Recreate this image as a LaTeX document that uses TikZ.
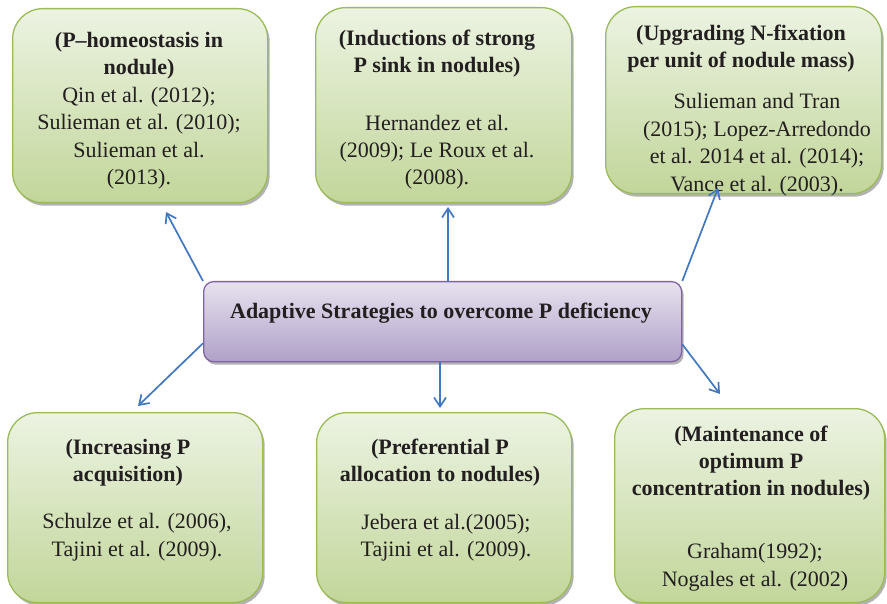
\documentclass[tikz,border=0pt]{standalone}
\usepackage{fontspec}
\setmainfont{Liberation Serif}
\usetikzlibrary{shadows,arrows.meta}
\definecolor{gtop}{RGB}{236,243,226}
\definecolor{gbot}{RGB}{194,214,154}
\definecolor{gline}{RGB}{155,187,89}
\definecolor{ptop}{RGB}{231,226,239}
\definecolor{pbot}{RGB}{176,161,200}
\definecolor{pline}{RGB}{128,100,162}
\definecolor{arr}{RGB}{66,120,192}
\definecolor{txtc}{RGB}{35,31,32}
\begin{document}
\begin{tikzpicture}[x=1pt,y=-1pt,
  shad/.style={drop shadow={shadow xshift=2pt,shadow yshift=-3pt,fill=black,opacity=.3}},
  gbox/.style={draw=gline,line width=1.3pt,rounded corners=30pt,top color=gtop,bottom color=gbot,shad,anchor=north west,inner sep=0pt},
  pbox/.style={draw=pline,line width=1.3pt,rounded corners=10pt,top color=ptop,bottom color=pbot,shad,anchor=north west,inner sep=0pt},
  txt/.style={align=center,inner sep=0pt,text=txtc,font=\fontsize{22}{27.4}\selectfont},
  hd/.style={txt,font=\fontsize{22}{27.4}\selectfont\bfseries},
  link/.style={draw=arr,line width=1.7pt,-{Straight Barb[length=9pt,width=12pt,line width=1.7pt]}}]
\useasboundingbox (0,0) rectangle (887,604);
\fill[white] (0,0) rectangle (887,604);
% boxes
\node[gbox,minimum width=255pt,minimum height=194pt] (b1) at (12,8) {};
\node[gbox,minimum width=256pt,minimum height=195pt] (b2) at (315,7) {};
\node[gbox,minimum width=276pt,minimum height=187pt] (b3) at (605,6) {};
\node[gbox,minimum width=255pt,minimum height=190pt] (b4) at (7,412) {};
\node[gbox,minimum width=255pt,minimum height=190pt] (b5) at (316,412) {};
\node[gbox,minimum width=270pt,minimum height=194pt] (b6) at (614,408) {};
\node[pbox,minimum width=478pt,minimum height=80pt] (c) at (203,281) {};
% texts
\node[txt] (t1) at (139,110.5) {\textbf{(P--homeostasis in}\strut\\\textbf{nodule)}\strut\\Qin et al. (2012);\strut\\Sulieman et al. (2010);\strut\\Sulieman et al.\strut\\(2013).\strut};
\node[hd] (h2) at (437,53.5) {(Inductions of strong\strut\\P sink in nodules)\strut};
\node[txt] (r2) at (437,152) {Hernandez et al.\strut\\(2009); Le Roux et al.\strut\\(2008).\strut};
\node[hd] (h3) at (741,48.5) {(Upgrading N-fixation\strut\\per unit of nodule mass)\strut};
\node[txt] (r3) at (757,144.5) {Sulieman and Tran\strut\\(2015); Lopez-Arredondo\strut\\et al. 2014 et al. (2014);\strut\\Vance et al. (2003).\strut};
\node[hd] (h4) at (128,462.5) {(Increasing P\strut\\acquisition)\strut};
\node[txt] (r4) at (137,537) {Schulze et al. (2006),\strut\\Tajini et al. (2009).\strut};
\node[hd] (h5) at (440,462.5) {(Preferential P\strut\\allocation to nodules)\strut};
\node[txt] (r5) at (446,537.5) {Jebera et al.(2005);\strut\\Tajini et al. (2009).\strut};
\node[hd] (h6) at (751,463) {(Maintenance of\strut\\optimum P\strut\\concentration in nodules)\strut};
\node[txt] (r6) at (755,567) {Graham(1992);\strut\\Nogales et al. (2002)\strut};
\node[hd] (ct) at (441,313) {Adaptive Strategies to overcome P deficiency\strut};
% arrow ends
\coordinate (e1) at (166,212);
\coordinate (e2) at (448,207);
\coordinate (e3) at (718,188);
\coordinate (e4) at (138,406);
\coordinate (e5) at (440,408);
\coordinate (e6) at (720,394);
\draw[link] (c.north west) -- (e1);
\draw[link] ([xshift=245pt]c.north west) -- (e2);
\draw[link] (c.north east) -- (e3);
\draw[link] ([yshift=19pt]c.south west) -- (e4);
\draw[link] ([xshift=237pt]c.south west) -- (e5);
\draw[link] ([yshift=18pt]c.south east) -- (e6);
\end{tikzpicture}
\end{document}
